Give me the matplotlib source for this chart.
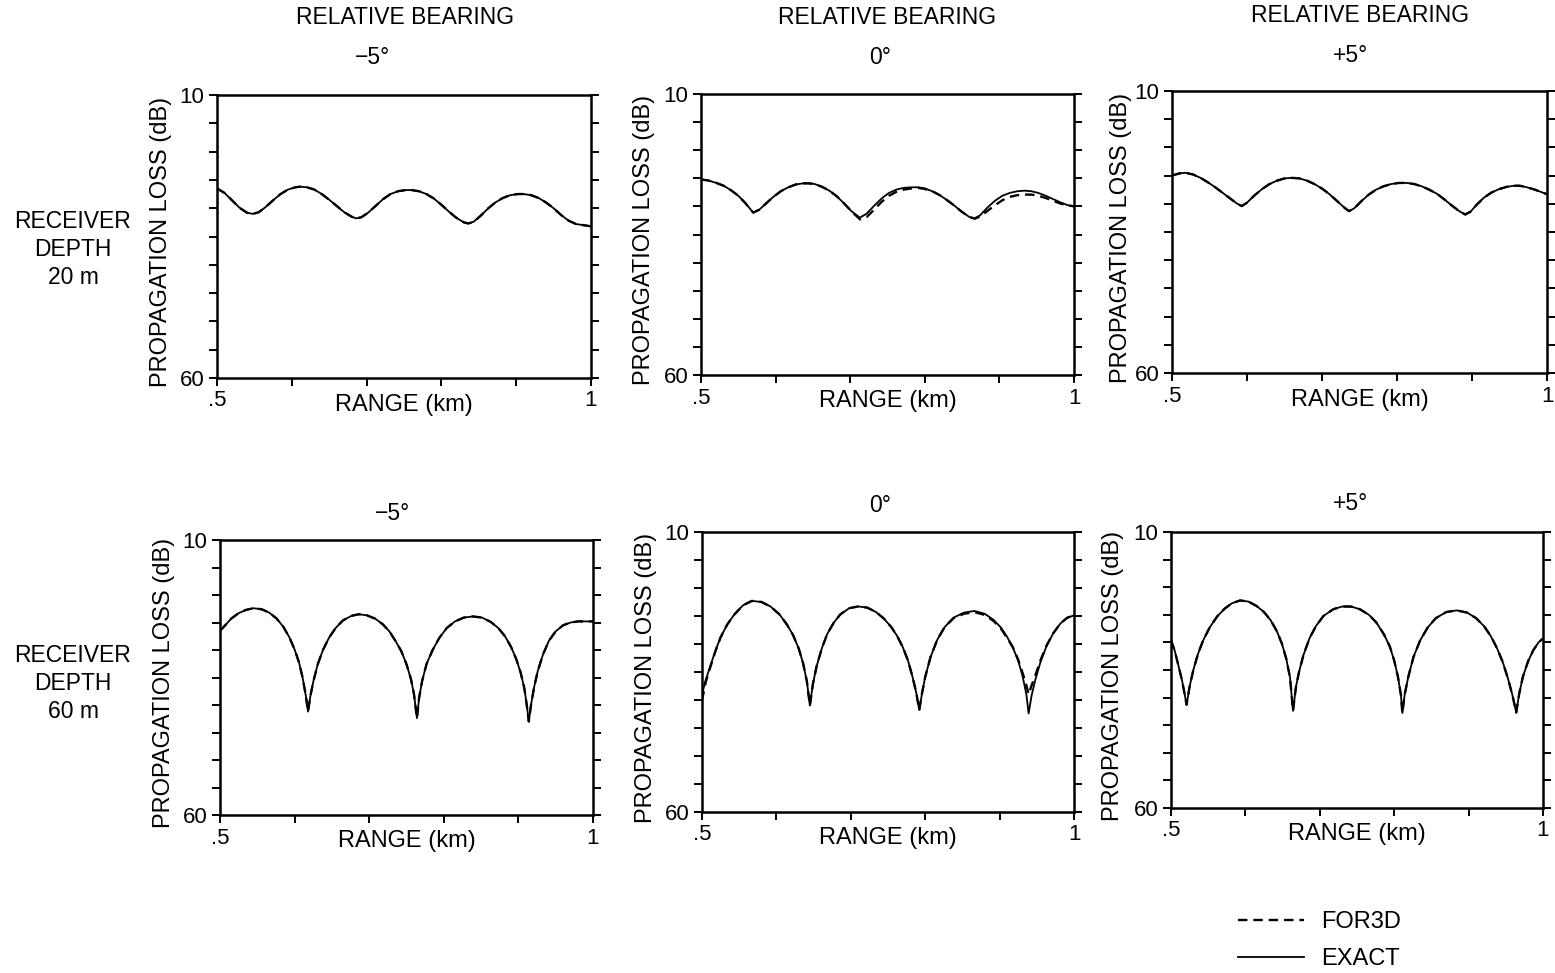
import numpy as np
import matplotlib
matplotlib.use("Agg")
from matplotlib import pyplot as plt

plt.rcParams['font.family'] = ['Liberation Sans', 'DejaVu Sans']

W, H = 1555, 973

# ---- data: range (km) and propagation loss (dB) ----
# receiver depth 20 m, bearing -5
x_20m_m5 = [.500, .510, .520, .530, .540, .548, .556, .565, .575, .585, .595, .605, .611, .620,
            .630, .640, .650, .660, .670, .680, .686, .693, .702, .712, .722, .732, .742, .752,
            .760, .770, .780, .790, .800, .810, .820, .830, .836, .843, .852, .862, .872, .882,
            .892, .902, .910, .920, .930, .940, .950, .960, .970, .980, .990, 1.000]
exact_20m_m5 = [26.5, 27.3, 28.6, 29.9, 30.8, 31.0, 30.7, 29.8, 28.6, 27.5, 26.7, 26.3, 26.2, 26.3,
                26.7, 27.5, 28.5, 29.6, 30.7, 31.5, 31.8, 31.6, 30.8, 29.6, 28.4, 27.5, 27.0, 26.8,
                26.8, 27.0, 27.5, 28.3, 29.4, 30.6, 31.7, 32.5, 32.7, 32.4, 31.4, 30.1, 29.0, 28.2,
                27.7, 27.5, 27.5, 27.7, 28.2, 29.0, 30.0, 31.2, 32.2, 32.8, 33.0, 33.2]
for3d_20m_m5 = exact_20m_m5

# receiver depth 20 m, bearing 0
x_20m_0 = [.500, .510, .520, .530, .540, .550, .560, .570, .578, .587, .597, .607, .617, .627,
           .637, .644, .652, .662, .672, .682, .692, .702, .713, .722, .732, .742, .752, .762,
           .772, .782, .791, .800, .810, .820, .830, .840, .850, .860, .867, .874, .884, .894,
           .904, .914, .924, .934, .943, .952, .962, .972, .982, .992, 1.000]
exact_20m_0 = [25.2, 25.4, 25.8, 26.3, 27.1, 28.1, 29.5, 31.1, 30.6, 29.5, 28.3, 27.3, 26.6, 26.1,
               25.9, 25.9, 26.0, 26.5, 27.2, 28.2, 29.5, 30.9, 32.0, 31.3, 29.9, 28.6, 27.6, 27.0,
               26.7, 26.6, 26.6, 26.8, 27.3, 28.0, 28.9, 29.9, 31.0, 31.9, 32.1, 31.6, 30.2, 29.0,
               28.1, 27.6, 27.3, 27.2, 27.3, 27.6, 28.1, 28.7, 29.3, 29.8, 30.0]
for3d_20m_0 = [25.2, 25.4, 25.8, 26.3, 27.1, 28.1, 29.5, 31.1, 30.6, 29.5, 28.3, 27.3, 26.6, 26.1,
               25.9, 25.9, 26.0, 26.5, 27.2, 28.2, 29.5, 30.9, 32.3, 31.9, 30.6, 29.2, 28.1, 27.4,
               27.0, 26.8, 26.7, 26.9, 27.3, 28.0, 28.9, 29.9, 31.0, 31.9, 32.2, 31.8, 30.8, 29.8,
               28.9, 28.3, 28.0, 27.9, 27.9, 28.1, 28.5, 29.0, 29.5, 29.8, 30.0]

# receiver depth 20 m, bearing +5
x_20m_p5 = [.500, .510, .518, .528, .538, .548, .558, .568, .578, .586, .593, .600, .610, .620,
            .630, .640, .650, .660, .670, .680, .690, .700, .710, .720, .730, .736, .743, .752,
            .762, .772, .782, .792, .803, .813, .823, .833, .843, .853, .863, .873, .883, .891,
            .898, .906, .916, .926, .936, .946, .956, .964, .974, .984, .994, 1.000]
exact_20m_p5 = [25.0, 24.6, 24.5, 24.8, 25.4, 26.2, 27.1, 28.1, 29.1, 29.9, 30.4, 29.8, 28.5, 27.4,
                26.5, 25.9, 25.5, 25.4, 25.5, 25.9, 26.5, 27.3, 28.3, 29.5, 30.7, 31.3, 30.8, 29.6,
                28.4, 27.5, 26.9, 26.5, 26.3, 26.3, 26.5, 26.9, 27.5, 28.2, 29.2, 30.3, 31.3, 31.9,
                31.4, 30.2, 28.9, 28.0, 27.4, 27.0, 26.8, 26.8, 27.1, 27.5, 28.0, 28.3]
for3d_20m_p5 = exact_20m_p5

# receiver depth 60 m, bearing -5
x_60m_m5 = [.500, .505, .515, .525, .535, .545, .556, .566, .576, .585, .593, .600, .606, .611,
            .615, .618, .621, .625, .631, .638, .646, .655, .665, .676, .686, .697, .708, .718,
            .727, .735, .743, .750, .756, .760, .764, .767, .771, .777, .785, .794, .804, .815,
            .827, .839, .851, .863, .873, .882, .890, .897, .903, .908, .911, .914, .917, .921,
            .926, .933, .941, .950, .960, .970, .980, .990, 1.000]
exact_60m_m5 = [26.5, 25.8, 24.3, 23.3, 22.7, 22.4, 22.6, 23.2, 24.3, 25.8, 27.7, 29.9, 32.3, 35.2,
                38.3, 41.2, 38.5, 35.8, 32.6, 30.0, 27.8, 26.0, 24.6, 23.8, 23.5, 23.7, 24.3, 25.3,
                26.6, 28.3, 30.2, 32.6, 35.3, 38.0, 42.4, 38.6, 35.6, 32.5, 30.0, 27.8, 26.0, 24.8,
                24.1, 23.9, 24.1, 24.9, 26.0, 27.5, 29.4, 31.6, 34.1, 37.0, 39.8, 43.0, 39.9, 36.8,
                33.8, 30.8, 28.3, 26.6, 25.5, 25.0, 24.8, 24.8, 24.8]
for3d_60m_m5 = exact_60m_m5

# receiver depth 60 m, bearing 0
x_60m_0 = [.500, .505, .511, .518, .525, .534, .543, .555, .567, .580, .592, .604, .614, .622,
           .630, .636, .641, .645, .649, .654, .661, .668, .677, .686, .698, .710, .722, .734,
           .744, .754, .762, .770, .777, .783, .788, .792, .796, .800, .807, .816, .826, .838,
           .852, .866, .880, .892, .902, .910, .918, .925, .931, .936, .939, .943, .948, .955,
           .963, .972, .982, .991, 1.000]
exact_60m_0 = [39.0, 36.4, 34.0, 31.2, 28.8, 26.5, 24.8, 23.1, 22.3, 22.5, 23.3, 24.7, 26.5, 28.3,
               30.8, 33.5, 36.7, 41.0, 37.2, 34.0, 30.8, 28.3, 26.2, 24.7, 23.6, 23.3, 23.5, 24.3,
               25.4, 26.9, 28.5, 30.6, 33.0, 35.9, 38.7, 41.8, 38.6, 35.9, 32.4, 29.3, 27.0, 25.3,
               24.4, 24.1, 24.6, 25.7, 27.1, 28.7, 30.7, 33.0, 35.8, 39.0, 42.4, 39.2, 36.4, 33.2,
               30.4, 28.1, 26.3, 25.3, 24.9]
for3d_60m_0 = [40.1, 36.8, 34.2, 31.3, 28.8, 26.5, 24.8, 23.1, 22.3, 22.5, 23.3, 24.7, 26.5, 28.3,
               30.8, 33.5, 36.7, 41.0, 37.2, 34.0, 30.8, 28.3, 26.2, 24.7, 23.6, 23.3, 23.5, 24.3,
               25.4, 26.9, 28.5, 30.6, 33.0, 35.9, 38.7, 41.8, 38.6, 35.9, 32.4, 29.3, 27.0, 25.4,
               24.6, 24.3, 24.8, 25.9, 27.3, 28.9, 30.6, 32.8, 35.2, 37.4, 39.0, 37.4, 35.6, 32.9,
               30.3, 28.1, 26.3, 25.3, 24.9]

# receiver depth 60 m, bearing +5
x_60m_p5 = [.500, .505, .510, .515, .521, .525, .530, .536, .543, .552, .562, .572, .582, .593,
            .604, .615, .625, .634, .642, .649, .655, .660, .664, .668, .672, .678, .686, .695,
            .705, .718, .730, .742, .754, .766, .776, .786, .794, .800, .805, .809, .811, .814,
            .819, .826, .835, .845, .856, .870, .884, .898, .910, .921, .930, .938, .946, .953,
            .959, .964, .968, .973, .980, .987, .994, 1.000]
exact_60m_p5 = [29.6, 31.5, 34.2, 37.0, 41.3, 38.0, 35.0, 32.2, 29.7, 27.3, 25.3, 23.9, 22.9, 22.4,
                22.6, 23.4, 24.5, 26.0, 27.9, 30.2, 33.0, 36.4, 42.4, 38.0, 35.4, 32.3, 29.3, 27.0,
                25.2, 24.0, 23.5, 23.5, 24.0, 25.0, 26.4, 28.5, 30.7, 33.3, 36.2, 39.5, 42.8, 39.5,
                36.2, 32.6, 29.6, 27.3, 25.6, 24.5, 24.2, 24.6, 25.6, 27.1, 28.9, 31.0, 33.6, 36.6,
                39.6, 42.7, 39.3, 36.2, 33.4, 31.4, 30.0, 29.3]
for3d_60m_p5 = exact_60m_p5

range_ticks = [.5, .6, .7, .8, .9, 1.0]
range_ticklabels = ['.5', '', '', '', '', '1']
loss_ticks = [10, 15, 20, 25, 30, 35, 40, 45, 50, 55, 60]
loss_ticklabels = ['10', '', '', '', '', '', '', '', '', '', '60']

# axes boxes in pixels (left, top, right, bottom) and y-label offset
panels = [
    ((217, 95, 591, 378), -0.120, x_20m_m5, exact_20m_m5, for3d_20m_m5),
    ((701, 94, 1074, 375), -0.123, x_20m_0, exact_20m_0, for3d_20m_0),
    ((1172, 91, 1547, 373), -0.107, x_20m_p5, exact_20m_p5, for3d_20m_p5),
    ((220, 540, 593, 815), -0.120, x_60m_m5, exact_60m_m5, for3d_60m_m5),
    ((702, 532, 1074, 812), -0.121, x_60m_0, exact_60m_0, for3d_60m_0),
    ((1171, 532, 1543, 808), -0.125, x_60m_p5, exact_60m_p5, for3d_60m_p5),
]


def fx(x):
    return x / W


def fy(y):
    return 1 - y / H


fig = plt.figure(figsize=(W / 100, H / 100), dpi=100)

for (l, t, r, b), ylx, xs, ex, f3 in panels:
    ax = fig.add_axes([fx(l), fy(b), (r - l) / W, (b - t) / H])
    h_exact, = ax.plot(xs, ex, color='black', lw=1.3)
    h_for3d, = ax.plot(xs, f3, color='black', lw=1.7, ls=(0, (4, 2.5)))
    ax.set_xlim(0.5, 1.0)
    ax.set_ylim(60, 10)
    ax.set_xticks(range_ticks)
    ax.set_xticklabels(range_ticklabels)
    ax.set_yticks(loss_ticks)
    ax.set_yticklabels(loss_ticklabels)
    ax.tick_params(direction='out', length=6, width=1.4, labelsize=16, right=True, pad=3)
    for s in ax.spines.values():
        s.set_linewidth(1.8)
    ax.set_xlabel('RANGE (km)', fontsize=17)
    ax.xaxis.set_label_coords(0.5, -0.055)
    ax.set_ylabel('PROPAGATION LOSS (dB)', fontsize=17)
    ax.yaxis.set_label_coords(ylx, 0.48)

# column headers
for cx, cy in [(405, 17), (887, 17), (1360, 15)]:
    fig.text(fx(cx), fy(cy), 'RELATIVE BEARING', fontsize=16.5, ha='center', va='center')
for s, cx, cy in [('\u22125°', 373, 57), ('0°', 880, 57), ('+5°', 1350, 56),
                  ('\u22125°', 393, 513), ('0°', 880, 506), ('+5°', 1350, 503)]:
    fig.text(fx(cx), fy(cy), s, fontsize=16.5, ha='center', va='center')

# row labels
for depth, ys in [('20 m', (221, 250, 278)), ('60 m', (655, 683, 712))]:
    for s, yy in zip(['RECEIVER', 'DEPTH', depth], ys):
        fig.text(fx(73), fy(yy), s, fontsize=16.5, ha='center', va='center')

fig.legend([h_for3d, h_exact], ['FOR3D', 'EXACT'], loc='upper left',
           bbox_to_anchor=(fx(1238), fy(911)), frameon=False, fontsize=17,
           handlelength=2.8, handletextpad=0.7, labelspacing=0.65,
           borderpad=0, borderaxespad=0)

fig.savefig('out.png', dpi=100)
